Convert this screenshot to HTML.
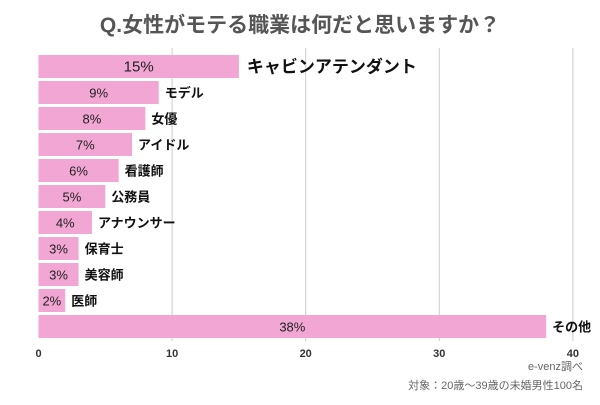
<!DOCTYPE html>
<html><head><meta charset="utf-8"><style>
body{margin:0;background:#fff;width:600px;height:400px;overflow:hidden;font-family:"Liberation Sans","Noto Sans CJK JP",sans-serif}
</style></head><body>
<svg id="c" width="600" height="400" xmlns="http://www.w3.org/2000/svg">
<text x="300" y="32" text-anchor="middle" font-size="21" font-weight="bold" fill="#555">Q.女性がモテる職業は何だと思いますか？</text>
<g id="grid"></g><g id="bars"></g><g id="ticks"></g>
<text x="583" y="370" text-anchor="end" font-size="11" fill="#666">e-venz調べ</text>
<text x="583" y="389" text-anchor="end" font-size="11" fill="#666">対象：20歳〜39歳の未婚男性100名</text>
</svg>
<script>
const categories=["キャビンアテンダント","モデル","女優","アイドル","看護師","公務員","アナウンサー","保育士","美容師","医師","その他"];
const values=[15,9,8,7,6,5,4,3,3,2,38];
const tickValues=[0,10,20,30,40];
const NS="http://www.w3.org/2000/svg";
const x0=38.5,xs=13.36,top0=55,pitch=26,bh=23;
const X=v=>x0+v*xs, Y=i=>top0+i*pitch;
function mk(t,a,p){const e=document.createElementNS(NS,t);for(const k in a)e.setAttribute(k,a[k]);document.getElementById(p).appendChild(e);return e;}
tickValues.forEach(v=>{
 if(v>0){const l=mk('line',{x1:X(v),x2:X(v),y1:48,y2:341,stroke:'#ccc','stroke-width':1},'grid');
 
 }
 const t=mk('text',{x:X(v),y:357,'text-anchor':'middle','font-size':11,'font-weight':'bold',fill:'#333'},'ticks');t.textContent=v;
 
 
});
categories.forEach((c,i)=>{
 const v=values[i],big=i==0;
 const r=mk('rect',{x:x0,y:Y(i),width:X(v)-x0,height:bh,fill:'#f2a6d4'},'bars');
 
 
 const p=mk('text',{x:(x0+X(v))/2,y:Y(i)+bh/2+5,'text-anchor':'middle','font-size':big?15:13,fill:'#222'},'bars');p.textContent=v+'%';
 
 
 const n=mk('text',{x:X(v)+(big?8:6),y:Y(i)+bh/2+(big?6:5),'font-size':big?17:13,'font-weight':'bold',fill:'#111'},'bars');n.textContent=c;
 
 
});
</script>
</body></html>
